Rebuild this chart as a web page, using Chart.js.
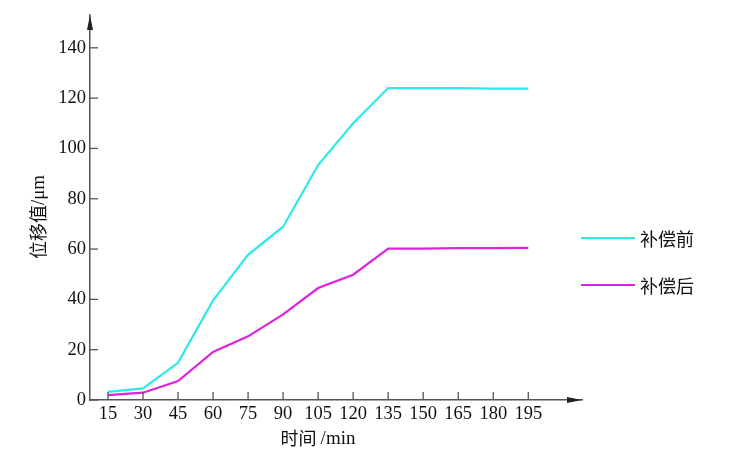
<!DOCTYPE html>
<html>
<head>
<meta charset="utf-8">
<script src="https://cdn.jsdelivr.net/npm/chart.js@4.4.1/dist/chart.umd.min.js"></script>
<style>
  html, body { margin: 0; padding: 0; background: #fff; }
  #wrap { width: 735px; height: 454px; position: relative; }
</style>
</head>
<body>
<div id="wrap"><canvas id="chart"></canvas></div>
<script>
const times = [15, 30, 45, 60, 75, 90, 105, 120, 135, 150, 165, 180, 195];
const before = [3.2, 4.6, 14.8, 39.6, 57.7, 68.9, 93.4, 110, 124, 124, 124, 123.8, 123.8];
const after = [1.9, 2.9, 7.5, 19.1, 25.3, 34, 44.5, 49.8, 60.2, 60.2, 60.4, 60.4, 60.5];
const yTicks = [0, 20, 40, 60, 80, 100, 120, 140];
const seriesNames = ["补偿前", "补偿后"];

const axisColor = "#555";
const serif = "'Liberation Serif', 'Noto Sans CJK SC', serif";
const cjk = "'Noto Sans CJK SC', 'Liberation Serif', serif";

// ticks pointing inward, arrow heads, axis titles and legend
const decor = {
  id: "decor",
  afterDraw(chart) {
    const { ctx, chartArea: a, scales: { x, y } } = chart;
    ctx.save();
    ctx.strokeStyle = axisColor;
    ctx.lineWidth = 1.3;
    yTicks.forEach((v) => {
      const py = y.getPixelForValue(v);
      ctx.beginPath(); ctx.moveTo(a.left, py); ctx.lineTo(a.left + 8, py); ctx.stroke();
    });
    times.forEach((v) => {
      const px = x.getPixelForValue(v);
      ctx.beginPath(); ctx.moveTo(px, a.bottom); ctx.lineTo(px, a.bottom - 8); ctx.stroke();
    });
    // arrows
    ctx.fillStyle = "#222";
    ctx.beginPath();
    ctx.moveTo(a.left, a.top); ctx.lineTo(a.left - 3, a.top + 15); ctx.lineTo(a.left + 3, a.top + 15);
    ctx.closePath(); ctx.fill();
    ctx.beginPath();
    ctx.moveTo(a.right, a.bottom); ctx.lineTo(a.right - 15, a.bottom - 3); ctx.lineTo(a.right - 15, a.bottom + 3);
    ctx.closePath(); ctx.fill();

    // axis titles
    ctx.fillStyle = "#111";
    ctx.textBaseline = "middle";
    ctx.textAlign = "left";
    const xt1 = "时间 ", xt2 = "/min";
    ctx.font = "18px " + cjk; const w1 = ctx.measureText(xt1).width;
    ctx.font = "19px " + serif; const w2 = ctx.measureText(xt2).width;
    let sx = 318 - (w1 + w2) / 2;
    ctx.font = "18px " + cjk; ctx.fillText(xt1, sx, 438);
    ctx.font = "19px " + serif; ctx.fillText(xt2, sx + w1, 439);

    ctx.save();
    ctx.translate(38, 217);
    ctx.rotate(-Math.PI / 2);
    const yt1 = "位移值", yt2 = "/μm";
    ctx.font = "18px " + cjk; const v1 = ctx.measureText(yt1).width;
    ctx.font = "19px " + serif; const v2 = ctx.measureText(yt2).width;
    sx = -(v1 + v2) / 2;
    ctx.font = "18px " + cjk; ctx.fillText(yt1, sx, 0);
    ctx.font = "19px " + serif; ctx.fillText(yt2, sx + v1, 1);
    ctx.restore();

    // legend
    const ly = [238, 285];
    chart.data.datasets.forEach((ds, i) => {
      ctx.strokeStyle = ds.borderColor;
      ctx.lineWidth = 2;
      ctx.beginPath(); ctx.moveTo(581, ly[i]); ctx.lineTo(635, ly[i]); ctx.stroke();
      ctx.fillStyle = "#111";
      ctx.font = "18px " + cjk;
      ctx.fillText(ds.label, 640, ly[i] + 1);
    });
    ctx.restore();
  },
};

new Chart(document.getElementById("chart"), {
  type: "line",
  data: {
    datasets: [
      { label: seriesNames[0], data: times.map((t, i) => ({ x: t, y: before[i] })), borderColor: "#2ee8e8", borderWidth: 2.2, pointRadius: 0, tension: 0 },
      { label: seriesNames[1], data: times.map((t, i) => ({ x: t, y: after[i] })), borderColor: "#dd22dd", borderWidth: 2.2, pointRadius: 0, tension: 0 },
    ],
  },
  options: {
    responsive: true,
    maintainAspectRatio: false,
    animation: false,
    layout: { padding: { top: 12, right: 153, left: 0, bottom: 0 } },
    plugins: { legend: { display: false }, tooltip: { enabled: false } },
    scales: {
      x: {
        type: "linear",
        min: 7.3,
        max: 218,
        afterBuildTicks: (s) => { s.ticks = times.map((v) => ({ value: v })); },
        afterFit: (s) => { s.height = 54; },
        grid: { display: false, drawTicks: false },
        border: { display: true, color: axisColor, width: 1.5 },
        ticks: { color: "#111", padding: 3, maxRotation: 0, autoSkip: false, font: { family: serif, size: 18.5 } },
      },
      y: {
        min: 0,
        max: 153,
        afterBuildTicks: (s) => { s.ticks = yTicks.map((v) => ({ value: v })); },
        afterFit: (s) => { s.width = 90; },
        grid: { display: false, drawTicks: false },
        border: { display: true, color: axisColor, width: 1.5 },
        ticks: { color: "#111", padding: 4, font: { family: serif, size: 18.5 } },
      },
    },
  },
  plugins: [decor],
});
</script>
</body>
</html>
